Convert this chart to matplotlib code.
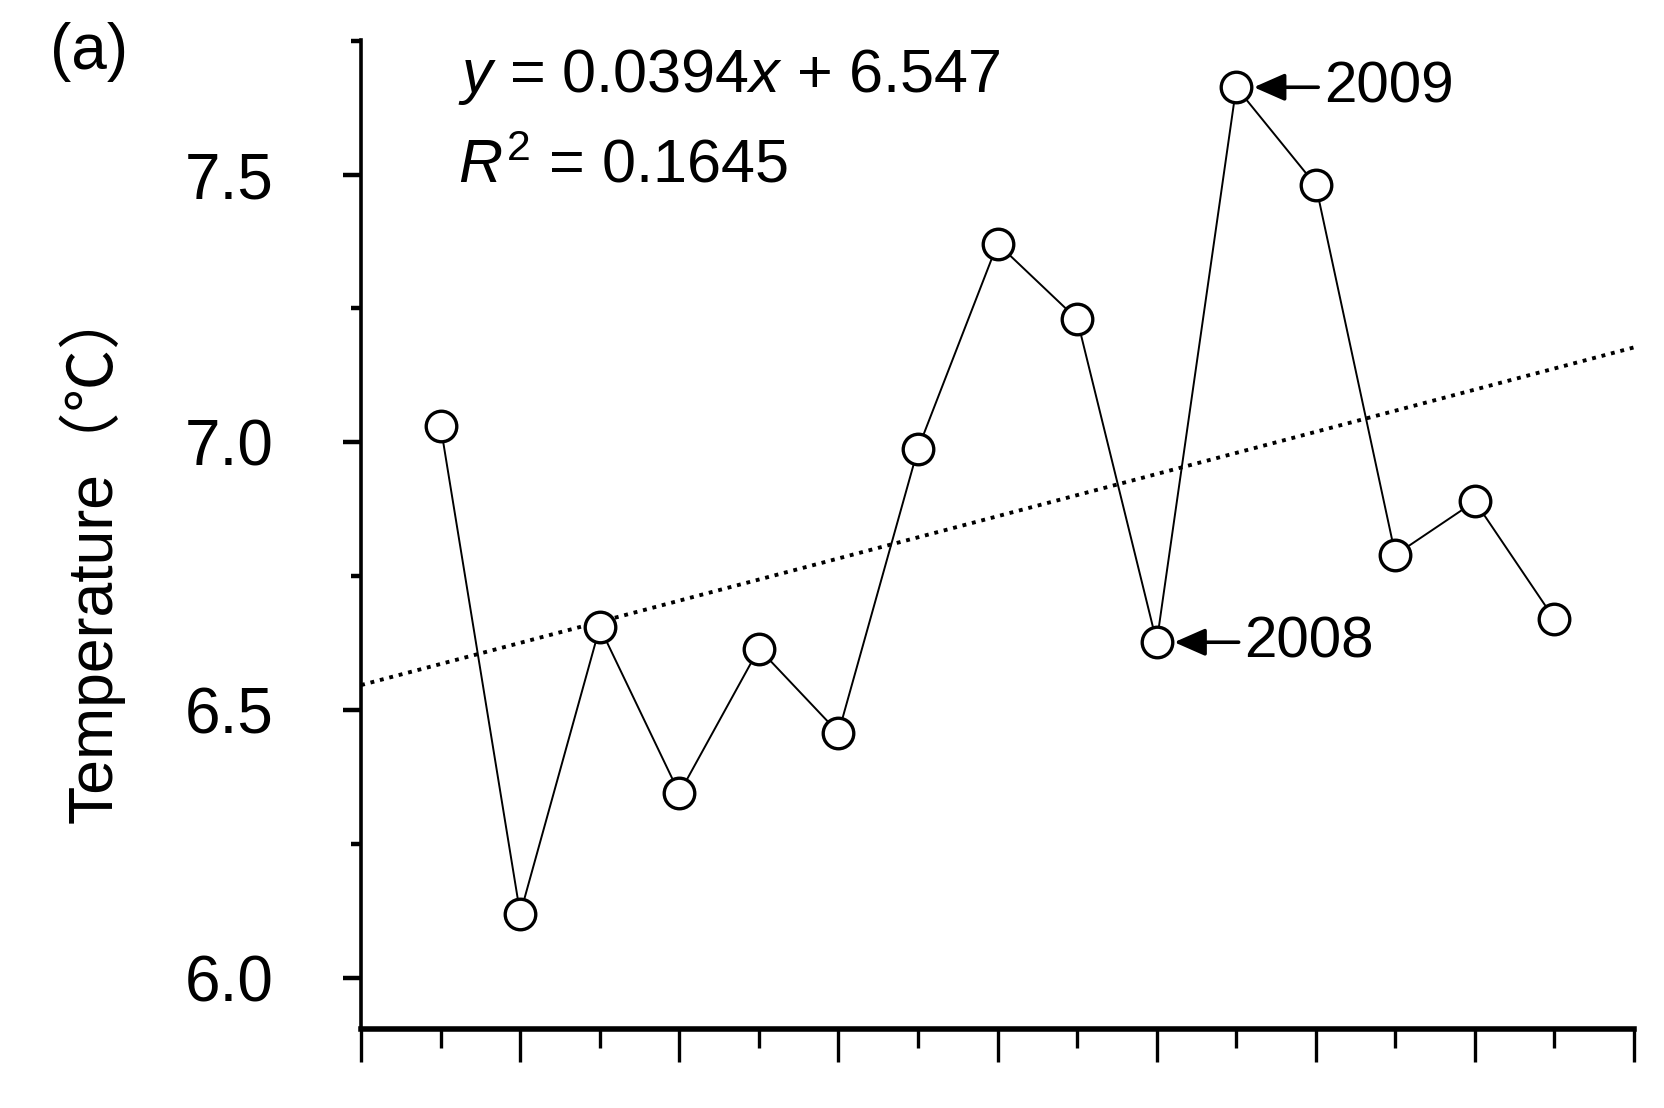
import numpy as np
import matplotlib.pyplot as plt
from matplotlib.ticker import MultipleLocator, NullFormatter

years = [1999, 2000, 2001, 2002, 2003, 2004, 2005, 2006,
         2007, 2008, 2009, 2010, 2011, 2012, 2013]
temps = [7.03, 6.12, 6.655, 6.345, 6.615, 6.458, 6.988, 7.371,
         7.23, 6.627, 7.663, 7.48, 6.79, 6.89, 6.67]

# fitted trend as printed on the chart (x counted from 1998)
slope = 0.0394
intercept = 6.547
x0 = 1998

plt.rcParams['font.family'] = ['Liberation Sans', 'Noto Sans CJK SC', 'DejaVu Sans']
plt.rcParams['mathtext.fontset'] = 'custom'
plt.rcParams['mathtext.rm'] = 'Liberation Sans'
plt.rcParams['mathtext.it'] = 'Liberation Sans:italic'

fig = plt.figure(figsize=(16.64, 11.08), dpi=100)
ax = fig.add_axes([0.217, 0.0713, 0.765, 0.893])

# trend line
tx = np.array([1998, 2014])
ax.plot(tx, slope * (tx - x0) + intercept, color="black", lw=2.8,
        linestyle=(0, (1, 1.5)))

ax.plot(years, temps, color="black", lw=1.4, marker="o", ms=22,
        mfc="white", mec="black", mew=2.4, zorder=3)

ax.set_xlim(1998, 2014)
ax.set_ylim(5.905, 7.752)
ax.xaxis.set_major_locator(MultipleLocator(2))
ax.xaxis.set_minor_locator(MultipleLocator(1))
ax.xaxis.set_major_formatter(NullFormatter())
ax.yaxis.set_major_locator(MultipleLocator(0.5))
ax.yaxis.set_minor_locator(MultipleLocator(0.25))
ax.yaxis.set_major_formatter(plt.FuncFormatter(lambda v, p: f"{v:.1f}"))

for s in ["top", "right"]:
    ax.spines[s].set_visible(False)
ax.spines["left"].set_linewidth(2.6)
ax.spines["bottom"].set_linewidth(4)
ax.tick_params(axis="x", which="major", length=24, width=2.4, direction="out")
ax.tick_params(axis="x", which="minor", length=14, width=2.4, direction="out")
ax.tick_params(axis="y", which="major", length=13, width=3.2, direction="out",
               labelsize=46, pad=50)
ax.tick_params(axis="y", which="minor", length=7, width=3.2, direction="out")

ax.set_ylabel("Temperature（℃）", fontsize=45)
ax.yaxis.set_label_coords(-0.186, 0.48)

ax.text(1999.22, 7.683, r"$y$ = 0.0394$x$ + 6.547", fontsize=44, va="center")
ax.text(1999.22, 7.515, r"$R^2$ = 0.1645", fontsize=44, va="center")
fig.text(0.030, 0.953, "(a)", fontsize=46, va="center")

for yr, lbl_dx in [(2009, 1.1), (2008, 1.1)]:
    t = temps[years.index(yr)]
    ax.annotate(str(yr), xy=(yr + 0.22, t), xytext=(yr + lbl_dx, t),
                fontsize=42, va="center", ha="left",
                arrowprops=dict(arrowstyle="-|>,head_length=0.5,head_width=0.22",
                                color="black", lw=2.6,
                                mutation_scale=38, shrinkA=2, shrinkB=0))

fig.savefig("out.png", dpi=100, facecolor="white")
